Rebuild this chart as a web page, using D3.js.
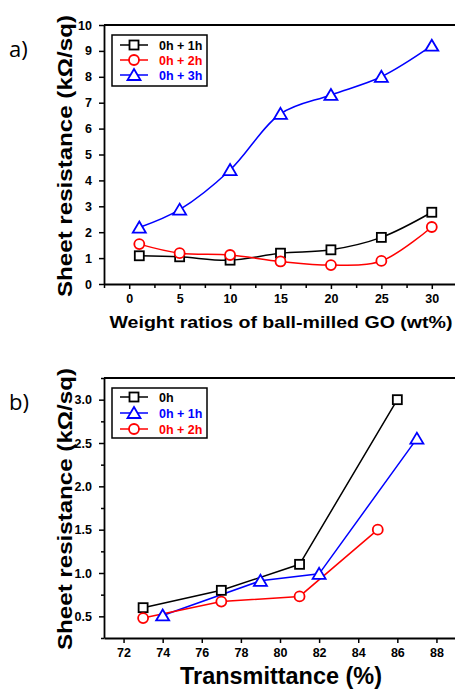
<!DOCTYPE html>
<html><head><meta charset="utf-8">
<script src="https://cdn.jsdelivr.net/npm/d3@7"></script>
<style>
html,body{margin:0;padding:0;background:#fff;}
svg{display:block;font-family:"Liberation Sans",Arial,sans-serif;}
</style></head>
<body>
<svg id="c" width="455" height="689"></svg>
<script>
// ---- Panel a data ----
const aX = [1, 5, 10, 15, 20, 25, 30];
const aSeriesNames = ["0h + 1h", "0h + 2h", "0h + 3h"];
const a1h = [1.09, 1.05, 0.92, 1.19, 1.32, 1.8, 2.77];
const a2h = [1.54, 1.19, 1.12, 0.87, 0.73, 0.89, 2.2];
const a3h = [2.18, 2.87, 4.4, 6.57, 7.3, 8.0, 9.2];
const aXTicks = [0, 5, 10, 15, 20, 25, 30];
const aYTicks = [0, 1, 2, 3, 4, 5, 6, 7, 8, 9, 10];

// ---- Panel b data ----
const bSeriesNames = ["0h", "0h + 1h", "0h + 2h"];
const b0hX = [73, 77, 81, 86];
const b0hY = [0.6, 0.8, 1.1, 3.0];
const b1hX = [74, 79, 82, 87];
const b1hY = [0.51, 0.91, 0.99, 2.55];
const b2hX = [73, 77, 81, 85];
const b2hY = [0.48, 0.67, 0.73, 1.5];
const bXTicks = [72, 74, 76, 78, 80, 82, 84, 86, 88];
const bYTicks = [0.5, 1.0, 1.5, 2.0, 2.5, 3.0];

const svg = d3.select("#c");
const BLACK = "#000", RED = "#ff0000", BLUE = "#0000ff";

function marker(g, type, x, y, color) {
  if (type === "square") {
    g.append("rect").attr("x", x - 4.5).attr("y", y - 4.5).attr("width", 9).attr("height", 9)
      .attr("fill", "#fff").attr("stroke", color).attr("stroke-width", 1.8);
  } else if (type === "circle") {
    g.append("circle").attr("cx", x).attr("cy", y).attr("r", 5)
      .attr("fill", "#fff").attr("stroke", color).attr("stroke-width", 1.8);
  } else {
    g.append("path").attr("d", `M${x},${y - 6}L${x + 6.5},${y + 5}L${x - 6.5},${y + 5}Z`)
      .attr("fill", "#fff").attr("stroke", color).attr("stroke-width", 1.8);
  }
}

function panel(opts) {
  const g = svg.append("g");
  const x = d3.scaleLinear().domain(opts.xDomain).range([104, opts.xRight]);
  const y = d3.scaleLinear().domain(opts.yDomain).range([opts.bottom, opts.top]);
  if (opts.xMinor) {
    g.append("g").attr("transform", `translate(0,${opts.bottom})`)
      .call(d3.axisBottom(x).tickValues(opts.xMinor).tickSize(4).tickFormat(""))
      .call(s => s.select(".domain").remove())
      .selectAll("line").attr("stroke-width", 1.5);
  }
  if (opts.yMinor) {
    g.append("g").attr("transform", `translate(104,0)`)
      .call(d3.axisLeft(y).tickValues(opts.yMinor).tickSize(3).tickFormat(""))
      .call(s => s.select(".domain").remove())
      .selectAll("line").attr("stroke-width", 1.5);
  }
  const xa = g.append("g").attr("transform", `translate(0,${opts.bottom})`)
    .call(d3.axisBottom(x).tickValues(opts.xTicks).tickSize(5).tickPadding(5).tickSizeOuter(0).tickFormat(opts.xFmt));
  const ya = g.append("g").attr("transform", `translate(104,0)`)
    .call(d3.axisLeft(y).tickValues(opts.yTicks).tickSize(5).tickPadding(7).tickSizeOuter(0).tickFormat(opts.yFmt));
  [xa, ya].forEach(a => {
    a.attr("font-family", "Liberation Sans, Arial, sans-serif").attr("font-size", 12.5).attr("font-weight", "bold");
    a.selectAll(".tick text").attr("fill", "#000").attr("font-weight", "bold");
    a.select(".domain").attr("stroke-width", 1.8);
    a.selectAll(".tick line").attr("stroke-width", 1.5);
  });
  g.append("path").attr("d", `M104,${opts.top}H${opts.xRight}V${opts.bottom}`)
    .attr("fill", "none").attr("stroke", "#000").attr("stroke-width", 1.8);
  opts.series.forEach(s => {
    const pts = s.xs.map((v, i) => [x(v), y(s.ys[i])]);
    g.append("path").attr("d", d3.line().curve(s.curve)(pts))
      .attr("fill", "none").attr("stroke", s.color).attr("stroke-width", 1.5);
  });
  opts.series.forEach(s => {
    s.xs.forEach((v, i) => marker(g, s.marker, x(v), y(s.ys[i]), s.color));
  });
  const L = opts.legend;
  g.append("rect").attr("x", L.x).attr("y", L.y).attr("width", 95).attr("height", L.h)
    .attr("fill", "#fff").attr("stroke", "#000").attr("stroke-width", 1.5);
  opts.series.forEach((s, i) => {
    const ry = L.rows[i];
    g.append("line").attr("x1", L.x + 8).attr("x2", L.x + 36).attr("y1", ry).attr("y2", ry)
      .attr("stroke", s.color).attr("stroke-width", 1.5);
    marker(g, s.marker, L.x + 22, ry, s.color);
    g.append("text").attr("x", L.x + 47).attr("y", ry + 4.5).text(s.name)
      .attr("font-weight", "bold").attr("font-size", 12.5).attr("fill", s.textColor);
  });
  g.append("text").attr("transform", `translate(72,${opts.yLabelY}) rotate(-90)`)
    .attr("text-anchor", "middle").attr("font-weight", "bold").attr("font-size", 21)
    .attr("textLength", 282).attr("lengthAdjust", "spacingAndGlyphs")
    .text("Sheet resistance (kΩ/sq)");
  g.append("text").attr("x", opts.xLabelX).attr("y", opts.xLabelY).attr("text-anchor", "middle")
    .attr("font-weight", "bold").attr("font-size", opts.xLabelSize)
    .attr("textLength", opts.xLabelLen).attr("lengthAdjust", "spacingAndGlyphs").text(opts.xLabel);
  g.append("text").attr("x", 9).attr("y", opts.tagY)
    .attr("font-family", "'Open Sans', sans-serif").attr("font-size", 22).text(opts.tag);
}

panel({
  xDomain: [-2.5, 32.5], xRight: 457, yDomain: [0, 10], top: 25, bottom: 284,
  xTicks: aXTicks, yTicks: aYTicks, xMinor: [-2.5, 2.5, 7.5, 12.5, 17.5, 22.5, 27.5, 32.5],
  xFmt: d3.format("d"), yFmt: d3.format("d"),
  series: [
    { name: aSeriesNames[0], xs: aX, ys: a1h, color: BLACK, textColor: BLACK, marker: "square", curve: d3.curveCatmullRom },
    { name: aSeriesNames[1], xs: aX, ys: a2h, color: RED, textColor: RED, marker: "circle", curve: d3.curveCatmullRom },
    { name: aSeriesNames[2], xs: aX, ys: a3h, color: BLUE, textColor: BLUE, marker: "triangle", curve: d3.curveCatmullRom }
  ],
  legend: { x: 112, y: 35, h: 51, rows: [45, 60, 75] },
  yLabelY: 156, xLabel: "Weight ratios of ball-milled GO (wt%)", xLabelX: 281, xLabelY: 328, xLabelSize: 17, xLabelLen: 343,
  tag: "a)", tagY: 57
});

panel({
  xDomain: [71, 89], xRight: 456, yDomain: [0.25, 3.25], top: 378, bottom: 638,
  xTicks: bXTicks, yTicks: bYTicks, yMinor: [0.25, 0.75, 1.25, 1.75, 2.25, 2.75, 3.25],
  xFmt: d3.format("d"), yFmt: d3.format(".1f"),
  series: [
    { name: bSeriesNames[0], xs: b0hX, ys: b0hY, color: BLACK, textColor: BLACK, marker: "square", curve: d3.curveLinear },
    { name: bSeriesNames[1], xs: b1hX, ys: b1hY, color: BLUE, textColor: BLUE, marker: "triangle", curve: d3.curveLinear },
    { name: bSeriesNames[2], xs: b2hX, ys: b2hY, color: RED, textColor: RED, marker: "circle", curve: d3.curveLinear }
  ],
  legend: { x: 112, y: 388, h: 50, rows: [397, 413, 429] },
  yLabelY: 509, xLabel: "Transmittance (%)", xLabelX: 281, xLabelY: 684, xLabelSize: 23, xLabelLen: 202,
  tag: "b)", tagY: 410
});
</script>
</body></html>
